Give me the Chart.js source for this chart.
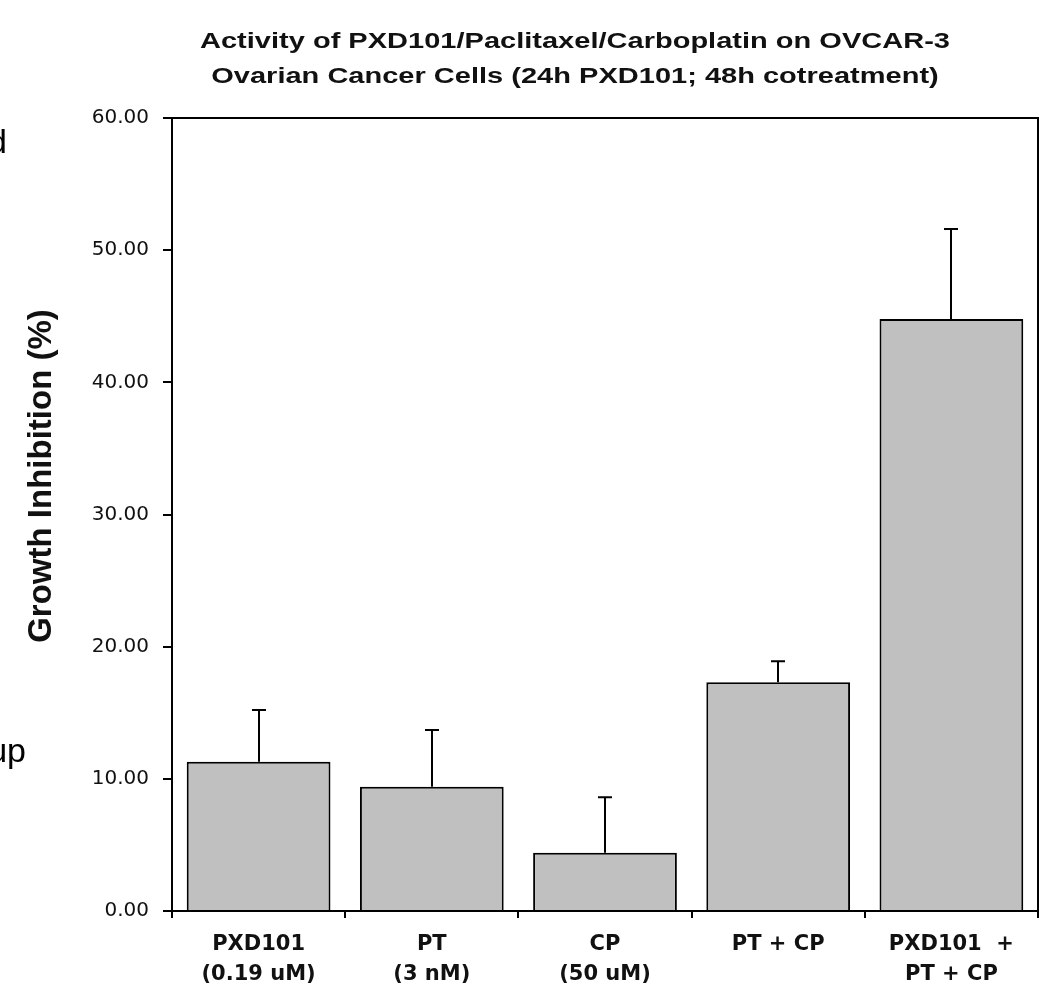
<!DOCTYPE html>
<html>
<head>
<meta charset="utf-8">
<title>PXD101 OVCAR-3</title>
<script src="https://cdn.jsdelivr.net/npm/chart.js@4.4.1/dist/chart.umd.min.js"></script>
<style>
  html, body { margin: 0; padding: 0; background: #fff; }
  #wrap { position: relative; width: 1058px; height: 993px; }
</style>
</head>
<body>
<div id="wrap"><canvas id="chart"></canvas></div>
<script>
const CATEGORIES = [
  ['PXD101', '(0.19 uM)'],
  ['PT', '(3 nM)'],
  ['CP', '(50 uM)'],
  ['PT + CP'],
  ['PXD101  +', 'PT + CP']
];
const INHIBITION = [11.3, 9.4, 4.4, 17.3, 44.8];
const ERROR_TOP = [15.2, 13.7, 8.6, 18.9, 51.6];
const Y_TICKS = [0, 10, 20, 30, 40, 50, 60];
const TITLE_LINES = [
  'Activity of PXD101/Paclitaxel/Carboplatin on OVCAR-3',
  'Ovarian Cancer Cells (24h PXD101; 48h cotreatment)'
];
const Y_TITLE = 'Growth Inhibition (%)';
// clipped words from the neighbouring slide text on the left
const SIDE_TEXT = [['d', 7, 153], ['up', 26, 762]];

const INK = '#111';

// error bars (upper half only), drawn from the data through the y scale
const errorBars = {
  id: 'errorBars',
  afterDatasetsDraw (chart) {
    const ctx = chart.ctx,
      yScale = chart.scales.y,
      meta = chart.getDatasetMeta(0)
    ctx.save()
    ctx.strokeStyle = '#000'
    ctx.lineWidth = 2
    meta.data.forEach((bar, i) => {
      const x = Math.round(bar.x),
        yTop = yScale.getPixelForValue(ERROR_TOP[i]),
        yBar = yScale.getPixelForValue(INHIBITION[i])
      ctx.beginPath()
      ctx.moveTo(x, yBar)
      ctx.lineTo(x, yTop)
      ctx.moveTo(x - 7, yTop)
      ctx.lineTo(x + 7, yTop)
      ctx.stroke()
    })
    ctx.restore()
  }
}

// plot box, titles and the side text
const frame = {
  id: 'frame',
  afterDraw (chart) {
    const ctx = chart.ctx,
      area = chart.chartArea
    ctx.save()
    ctx.strokeStyle = '#000'
    ctx.lineWidth = 2
    ctx.beginPath()
    ctx.moveTo(area.left, area.top)
    ctx.lineTo(area.right, area.top)
    ctx.lineTo(area.right, area.bottom)
    ctx.stroke()

    // chart title, two lines, stretched to the width of the original
    ctx.fillStyle = INK
    ctx.font = 'bold 21px "Liberation Sans", Arial, sans-serif'
    ctx.textAlign = 'center'
    ctx.textBaseline = 'alphabetic'
    const widest = Math.max(...TITLE_LINES.map(t => ctx.measureText(t).width)),
      stretch = 750 / widest
    TITLE_LINES.forEach((line, i) => {
      ctx.save()
      ctx.translate(575, 48 + i * 35)
      ctx.scale(stretch, 1.05)
      ctx.fillText(line, 0, 0)
      ctx.restore()
    })

    ctx.font = 'bold 33px "Liberation Sans", Arial, sans-serif'
    ctx.textBaseline = 'middle'
    ctx.translate(42, 476)
    ctx.rotate(-Math.PI / 2)
    ctx.fillText(Y_TITLE, 0, 0)
    ctx.restore()

    ctx.save()
    ctx.fillStyle = '#000'
    ctx.font = '34px "Liberation Sans", Arial, sans-serif'
    ctx.textAlign = 'right'
    ctx.textBaseline = 'alphabetic'
    SIDE_TEXT.forEach(([text, x, y]) => ctx.fillText(text, x, y))
    ctx.restore()
  }
}

const ctx = document.getElementById('chart').getContext('2d')
const chart = new Chart(ctx, {
  type: 'bar',
  data: {
    labels: CATEGORIES,
    datasets: [{
      data: INHIBITION,
      backgroundColor: '#c0c0c0',
      borderColor: '#000',
      borderWidth: 2,
      categoryPercentage: 0.83,
      barPercentage: 1
    }]
  },
  options: {
    responsive: true,
    maintainAspectRatio: false,
    animation: false,
    layout: { padding: { left: 0, right: 20, top: 118, bottom: 0 } },
    plugins: {
      legend: { display: false },
      tooltip: { enabled: false },
      title: { display: false }
    },
    scales: {
      x: {
        grid: { drawOnChartArea: false, drawTicks: true, tickLength: 7, color: '#000', lineWidth: 2, offset: true },
        border: { color: '#000', width: 2 },
        ticks: {
          color: INK,
          padding: 12,
          maxRotation: 0,
          autoSkip: false,
          font: { family: '"DejaVu Sans", sans-serif', size: 21, weight: 'bold', lineHeight: 1.4 }
        },
        afterFit (scale) { scale.height = 82 }
      },
      y: {
        min: 0,
        max: 60,
        afterBuildTicks (scale) { scale.ticks = Y_TICKS.map(v => ({ value: v })) },
        grid: { drawOnChartArea: false, drawTicks: true, tickLength: 9, color: '#000', lineWidth: 2 },
        border: { color: '#000', width: 2 },
        ticks: {
          color: INK,
          padding: 14,
          font: { family: '"DejaVu Sans", sans-serif', size: 20 },
          callback: value => Number(value).toFixed(2)
        },
        afterFit (scale) { scale.width = 172 }
      }
    }
  },
  plugins: [errorBars, frame]
})
</script>
</body>
</html>
